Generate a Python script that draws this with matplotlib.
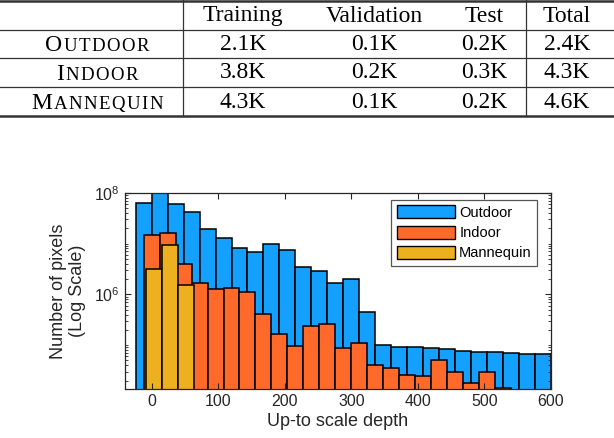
import numpy as np
import matplotlib
matplotlib.use("Agg")
import matplotlib.pyplot as plt
from matplotlib.patches import Patch
from matplotlib.ticker import FixedLocator, NullFormatter, LogFormatterMathtext

plt.rcParams["mathtext.fontset"] = "custom"
plt.rcParams["mathtext.rm"] = "Liberation Sans"
plt.rcParams["mathtext.it"] = "Liberation Sans:italic"
plt.rcParams["mathtext.bf"] = "Liberation Sans:bold"

# ---- table data ----
row_names = ["Outdoor", "Indoor", "Mannequin"]
col_names = ["Training", "Validation", "Test", "Total"]
table_vals = [["2.1K", "0.1K", "0.2K", "2.4K"],
              ["3.8K", "0.2K", "0.3K", "4.3K"],
              ["4.3K", "0.1K", "0.2K", "4.6K"]]

# ---- histogram data (counts per bin) ----
bin_w = 24
outdoor_start = -24
outdoor_counts = [6.2e7, 1.0e8, 5.9e7, 4.1e7, 1.95e7, 1.3e7, 8.1e6, 6.9e6, 1.0e7,
                  7.4e6, 3.5e6, 2.9e6, 1.66e6, 2.0e6, 4.4e5, 1.0e5, 9.3e4, 9.1e4,
                  8.7e4, 8.3e4, 7.8e4, 7.4e4, 7.2e4, 6.9e4, 6.6e4, 6.6e4]
indoor_start = -12
indoor_counts = [1.48e7, 1.62e7, 3.9e6, 1.7e6, 1.26e6, 1.32e6, 1.12e6, 4.1e5,
                 1.66e5, 9.5e4, 2.4e5, 2.6e5, 8.9e4, 1.12e5, 4.1e4, 3.6e4, 2.6e4,
                 2.5e4, 5.1e4, 2.9e4, 1.8e4, 2.95e4, 1.42e4]
manneq_start = -8.5
manneq_counts = [3.1e6, 9.5e6, 1.55e6]

series = [("Outdoor", outdoor_start, outdoor_counts, "#14A0FF"),
          ("Indoor", indoor_start, indoor_counts, "#FF6A2B"),
          ("Mannequin", manneq_start, manneq_counts, "#EDB120")]

W, H = 614, 438
fig = plt.figure(figsize=(W / 100, H / 100), dpi=100)

# ---------------- table (pixel coordinates overlay) ----------------
tab = fig.add_axes([0, 0, 1, 1])
tab.set_xlim(0, W)
tab.set_ylim(H, 0)
tab.axis("off")

serif = "Liberation Serif"
fs = 17
for y in [30, 58, 87]:
    tab.plot([0, W], [y, y], color="#333333", lw=0.9)
tab.plot([0, W], [1, 1], color="#333333", lw=1.8)
tab.plot([0, W], [116, 116], color="#333333", lw=1.8)
for x in [183, 526]:
    tab.plot([x, x], [0, 116], color="#333333", lw=0.9)

col_x = [243, 374, 484, 567]
row_y = [44, 73, 102]
for cx, name in zip(col_x, col_names):
    tab.text(cx, 16, name, ha="center", va="center", fontsize=fs, family=serif)
for r, ry in enumerate(row_y):
    for cx, v in zip(col_x, table_vals[r]):
        tab.text(cx, ry, v, ha="center", va="center", fontsize=fs, family=serif)

# small caps row labels (letter by letter), centered in the first column
fig.canvas.draw()
rend = fig.canvas.get_renderer()
track = 1.4
for name, ry in zip(row_names, row_y):
    letters = [tab.text(0, ry + 7, name[0], ha="left", va="baseline",
                        fontsize=fs, family=serif)]
    for ch in name[1:].upper():
        letters.append(tab.text(0, ry + 7, ch, ha="left", va="baseline",
                                fontsize=fs * 0.8, family=serif))
    widths = [t.get_window_extent(rend).width for t in letters]
    total = sum(widths) + track * (len(letters) - 1)
    x = 97 - total / 2
    for t, w in zip(letters, widths):
        t.set_x(x)
        x += w + track

# ---------------- histogram ----------------
sans = "Liberation Sans"
ax = fig.add_axes([125 / W, 1 - 389 / H, 426 / W, (389 - 192.7) / H])
for label, start, counts, color in series:
    lefts = start + bin_w * np.arange(len(counts))
    ax.bar(lefts, counts, width=bin_w, align="edge", color=color,
           edgecolor="black", linewidth=1.1, label=label)

ax.set_yscale("log")
ax.set_ylim(1.37e4, 1.0e8)
ax.set_xlim(-40, 600)
ax.set_xticks(np.arange(0, 601, 100))
ax.yaxis.set_major_locator(FixedLocator([1e6, 1e8]))
ax.yaxis.set_major_formatter(LogFormatterMathtext())
minor = [k * 10.0 ** n for n in range(4, 8) for k in range(1, 10)]
minor = [m for m in minor if m not in (1e6, 1e8)]
ax.yaxis.set_minor_locator(FixedLocator(minor))
ax.yaxis.set_minor_formatter(NullFormatter())
ax.tick_params(which="both", direction="in", top=True, right=True,
               colors="#262626", labelsize=11.5)
ax.tick_params(which="major", length=4, width=0.8)
ax.tick_params(which="minor", length=2, width=0.6)
ax.tick_params(axis="x", which="minor", bottom=False, top=False)
for lab in ax.get_xticklabels() + ax.get_yticklabels():
    lab.set_family(sans)
for sp in ax.spines.values():
    sp.set_color("#262626")
    sp.set_linewidth(0.9)

ax.set_xlabel("Up-to scale depth", fontsize=13, family=sans, color="#262626", labelpad=3)
ax.set_ylabel("Number of pixels\n(Log Scale)", fontsize=13, family=sans,
              color="#262626", labelpad=6, linespacing=1.15)

handles = [Patch(facecolor=c, edgecolor="black", linewidth=1.0) for _, _, _, c in series]
leg = ax.legend(handles, [s[0] for s in series], loc="upper right",
                bbox_to_anchor=(0.967, 0.962), prop={"family": sans, "size": 10.5},
                fancybox=False, edgecolor="#555555", framealpha=1,
                handlelength=4.0, handleheight=1.0, labelspacing=0.4,
                handletextpad=0.3, borderpad=0.35, borderaxespad=0)
leg.get_frame().set_linewidth(0.9)

fig.savefig("out.png", dpi=100)
